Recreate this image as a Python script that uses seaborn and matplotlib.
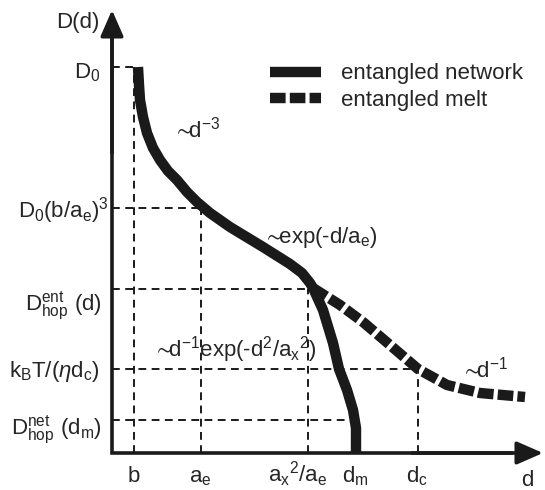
import matplotlib
matplotlib.use("Agg")
import matplotlib.pyplot as plt
import seaborn as sns

# schematic units: d to the right of the D axis, D above the d axis
net_d = [26, 27, 28, 31, 35, 41, 48, 56, 65, 75, 85, 98, 118, 151, 178, 190,
         198, 201, 211, 221, 227, 235, 241, 244, 244]
net_D = [386, 368, 353, 336, 320, 305, 293, 282, 273, 261, 251, 240, 226, 206,
         189, 180, 170, 165, 143, 110, 84, 63, 43, 25, 0]
melt_d = [201, 228, 251, 278, 306, 335, 368, 413]
melt_D = [165, 148, 131, 108, 84, 68, 60, 56]

y_levels = [386, 245, 164, 84, 33]
y_labels = ["D$_0$", "D$_0$(b/a$_\\mathrm{e}$)$^3$",
            "D$^\\mathrm{ent}_\\mathrm{hop}$ (d)",
            "k$_\\mathrm{B}$T/($\\eta$d$_\\mathrm{c}$)",
            "D$^\\mathrm{net}_\\mathrm{hop}$ (d$_\\mathrm{m}$)"]
h_guide_end = [22, 89, 196, 306, 233]

x_ticks = [22, 89, 196, 244, 306]
x_labels = ["b", "a$_\\mathrm{e}$", "a$_\\mathrm{x}$$^2$/a$_\\mathrm{e}$",
            "d$_\\mathrm{m}$", "d$_\\mathrm{c}$"]
v_guide_top = [386, 245, 164, 0, 84]

sns.set_theme(style="white")
plt.rcParams["font.family"] = ["Liberation Sans", "DejaVu Sans"]
plt.rcParams["mathtext.fontset"] = "custom"
plt.rcParams["mathtext.rm"] = "Liberation Sans"
plt.rcParams["mathtext.it"] = "Liberation Sans:italic"
plt.rcParams["mathtext.bf"] = "Liberation Sans:bold"
plt.rcParams["mathtext.fallback"] = "stixsans"

fig = plt.figure(figsize=(5.45, 4.9), dpi=100)
ax = fig.add_axes([0, 0, 1, 1])
ax.set_xlim(-112, 433)
ax.set_ylim(-37, 453)
ax.axis("off")

fs = 16
tilde = "$\\!\\!\\sim\\!\\!$"

# dashed guides
for lev, xe in zip(y_levels, h_guide_end):
    ax.plot([0, xe], [lev, lev], color="k", lw=1.4, ls=(0, (4.0, 2.8)), zorder=1)
for xt, top in zip(x_ticks, v_guide_top):
    if top > 0:
        ax.plot([xt, xt], [0, top], color="k", lw=1.4, ls=(0, (4.0, 2.8)), zorder=1)

# curves
sns.lineplot(x=net_d, y=net_D, ax=ax, sort=False, estimator=None, color="k",
             lw=7.5, solid_capstyle="butt", solid_joinstyle="round",
             label="entangled network", zorder=3)
sns.lineplot(x=melt_d, y=melt_D, ax=ax, sort=False, estimator=None, color="k",
             lw=7.5, dash_capstyle="butt", label="entangled melt", zorder=3)
ax.lines[-1].set_linestyle((0, (1.5, 0.4)))

# axes with arrows
ax.plot([0, 0, 400], [420, 0, 0], color="k", lw=2.6, solid_joinstyle="miter", zorder=4)
arrow = dict(arrowstyle="-|>,head_length=0.8,head_width=0.35", color="k", lw=2.6,
             shrinkA=0, shrinkB=0, mutation_scale=20)
ax.annotate("", xy=(0, 443), xytext=(0, 300), arrowprops=arrow, zorder=4)
ax.annotate("", xy=(431, 0), xytext=(300, 0), arrowprops=arrow, zorder=4)

# labels on the D axis
ax.text(-12, 430, "D(d)", fontsize=fs, ha="right", va="center")
y_text_pos = [(-12, 380), (-3, 242), (-10, 147), (-12, 82), (-10, 23)]
for (tx, ty), lab in zip(y_text_pos, y_labels):
    ax.text(tx, ty, lab, fontsize=fs, ha="right", va="center")

# labels on the d axis
x_text_pos = [22, 88, 186, 243, 305]
for tx, lab in zip(x_text_pos, x_labels):
    ax.text(tx, -29, lab, fontsize=fs, ha="center", va="baseline")
ax.text(415, -33, "d", fontsize=fs, ha="center", va="baseline")

# scaling laws
ax.text(65, 323, tilde + "d$^{-3}$", fontsize=fs, ha="left", va="center")
ax.text(155, 216, tilde + "exp(-d/a$_\\mathrm{e}$)", fontsize=fs, ha="left", va="center")
ax.text(45, 103, tilde + "d$^{-1}$exp(-d$^2$/a$_\\mathrm{x}$$^2$)", fontsize=fs,
        ha="left", va="center")
ax.text(353, 83, tilde + "d$^{-1}$", fontsize=fs, ha="left", va="center")

ax.legend(loc="center left", bbox_to_anchor=(270 / 545, 1 - 87 / 490),
          bbox_transform=fig.transFigure, frameon=False, fontsize=fs,
          handlelength=2.3, handletextpad=0.9, labelspacing=0.24,
          borderpad=0, borderaxespad=0)

fig.savefig("out.png", dpi=100)
